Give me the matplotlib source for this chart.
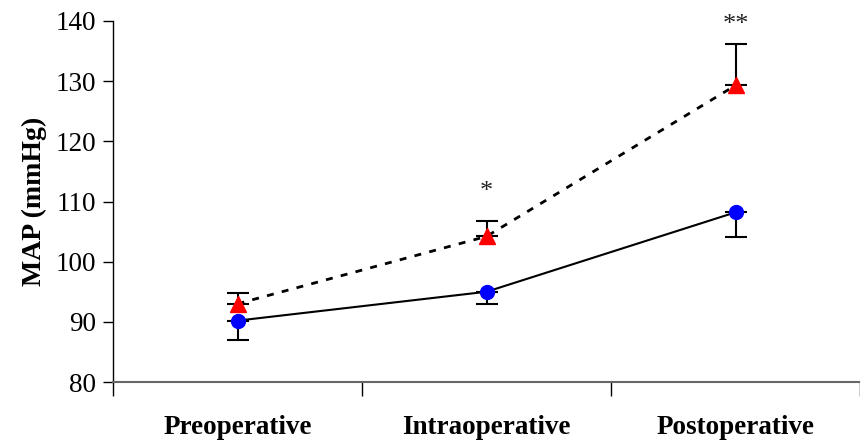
import matplotlib
matplotlib.use("Agg")
import matplotlib.pyplot as plt
import numpy as np

categories = ["Preoperative", "Intraoperative", "Postoperative"]
control_mean = [90.2, 95.0, 108.2]
control_err = [3.2, 2.1, 4.1]
treated_mean = [93.0, 104.2, 129.3]
treated_err = [1.8, 2.6, 6.8]
annotations = ["", "*", "**"]
annot_y = [None, 111.5, 139.3]

plt.rcParams['font.family'] = ['Liberation Serif', 'DejaVu Serif']

fig = plt.figure(figsize=(8.6, 4.45), dpi=100)
W, H = 860, 445
left, right = 113, 860
top, bottom = 21, 382
ax = fig.add_axes([left / W, 1 - bottom / H, (right - left) / W, (bottom - top) / H])

x = np.arange(len(categories)) + 0.5
step = 251.5
ax.set_xlim(0, (right - left) / step)
ax.set_ylim(80, 140)

ax.errorbar(x, control_mean, yerr=[control_err, [0] * 3], color='black', lw=1.5,
            marker='o', markersize=10, markerfacecolor='#0000ff', markeredgecolor='#0000ff',
            capsize=8, capthick=1.5, elinewidth=1.5, zorder=3)
ax.errorbar(x, treated_mean, yerr=[[0] * 3, treated_err], color='black', lw=2,
            linestyle=(0, (2.5, 3)), marker='^', markersize=11,
            markerfacecolor='#ff0000', markeredgecolor='#ff0000',
            capsize=8, capthick=1.5, elinewidth=1.5, zorder=3)

for xi, t, yy in zip(x, annotations, annot_y):
    if t:
        ax.text(xi, yy, t, ha='center', va='center', fontsize=19, color='#222222')

ax.set_yticks(np.arange(80, 141, 10))
ax.tick_params(axis='y', direction='out', length=7, width=1, labelsize=19.5, pad=5)
ax.set_xticks([0, 1, 2, 3])
ax.set_xticklabels([])
ax.tick_params(axis='x', direction='out', length=10, width=1)
ax.set_xticks(x, minor=True)
ax.set_xticklabels(categories, minor=True, fontsize=19.5, fontweight='bold')
ax.tick_params(axis='x', which='minor', length=0, pad=24)

ax.spines['top'].set_visible(False)
ax.spines['right'].set_visible(False)
ax.spines['bottom'].set_color('#666666')
ax.spines['bottom'].set_linewidth(1.5)
ax.spines['left'].set_linewidth(1)

ax.set_ylabel("MAP (mmHg)", fontsize=20, fontweight='bold', labelpad=6)

fig.savefig("out.png", dpi=100)
